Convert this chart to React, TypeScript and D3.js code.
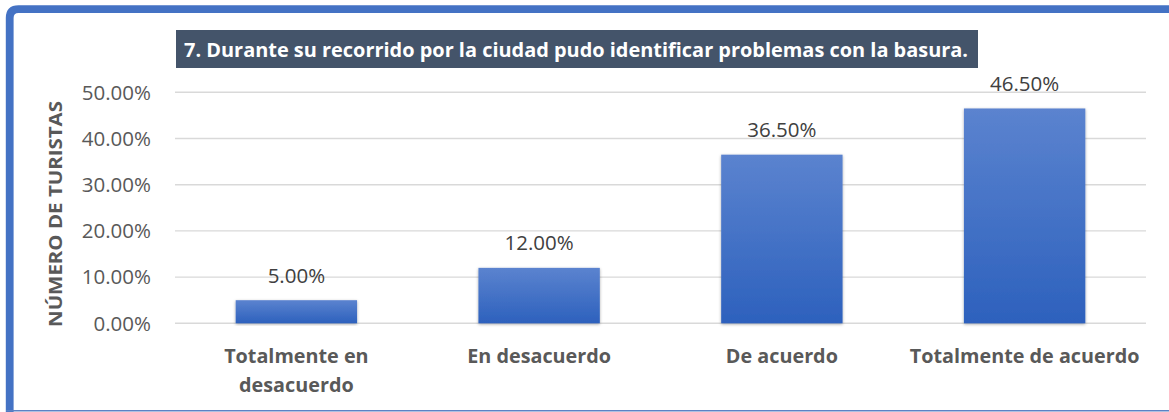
import React from "react";
import * as d3 from "d3";

const categories: string[][] = [
  ["Totalmente en", "desacuerdo"],
  ["En desacuerdo"],
  ["De acuerdo"],
  ["Totalmente de acuerdo"],
];
const values: number[] = [5.0, 12.0, 36.5, 46.5];
const yTicks: number[] = [0, 10, 20, 30, 40, 50];
const title = "7. Durante su recorrido por la ciudad pudo identificar problemas con la basura.";
const yTitle = "NÚMERO DE TURISTAS";

const W = 1169;
const H = 412;

export default function App() {
  const x = d3
    .scaleBand<number>()
    .domain(d3.range(categories.length))
    .range([175, 1146])
    .paddingInner(0.5)
    .paddingOuter(0.25);
  const y = d3.scaleLinear().domain([0, 50]).range([323.3, 92.3]);
  const fmt = (v: number) => v.toFixed(2) + "%";
  const font = "'Open Sans', sans-serif";

  return (
    <svg
      width={W}
      height={H}
      style={{ position: "absolute", left: 0, top: 0, background: "#fff" }}
    >
      <defs>
        <linearGradient id="barGrad" x1="0" y1="0" x2="0" y2="1">
          <stop offset="0%" stopColor="#5b83cf" />
          <stop offset="100%" stopColor="#2d61bd" />
        </linearGradient>
        <filter id="shadow" x="-10%" y="-10%" width="120%" height="120%">
          <feDropShadow dx="0" dy="1" stdDeviation="1.6" floodColor="#000" floodOpacity="0.35" />
        </filter>
      </defs>

      {/* frame */}
      <path
        d={`M 9.7 ${H} L 9.7 18 Q 9.7 9.2 18.5 9.2 L ${W} 9.2`}
        fill="none"
        stroke="#4472c4"
        strokeWidth={7.8}
      />
      <line x1={6} x2={W} y1={410.8} y2={410.8} stroke="#5b82c4" strokeWidth={1.6} />

      {/* title */}
      <rect x={176} y={30} width={802} height={38} fill="#44546a" />
      <text
        x={184}
        y={56.5}
        fill="#fff"
        fontFamily={font}
        fontWeight={700}
        fontSize={19}
        textLength={784}
        lengthAdjust="spacingAndGlyphs"
      >
        {title}
      </text>

      {/* gridlines */}
      {yTicks.map((t) => (
        <line
          key={"g" + t}
          x1={175}
          x2={1146}
          y1={y(t)}
          y2={y(t)}
          stroke="#d9d9d9"
          strokeWidth={1.4}
        />
      ))}

      {/* y tick labels */}
      {yTicks.map((t) => (
        <text
          key={"t" + t}
          x={151}
          y={y(t)}
          dy="0.36em"
          textAnchor="end"
          fill="#595959"
          fontFamily={font}
          fontSize={20.5}
        >
          {fmt(t)}
        </text>
      ))}

      {/* y axis title */}
      <text
        transform={`translate(62,214) rotate(-90)`}
        textAnchor="middle"
        fill="#595959"
        fontFamily={font}
        fontWeight={700}
        fontSize={18.5}
        textLength={226}
        lengthAdjust="spacingAndGlyphs"
      >
        {yTitle}
      </text>

      {/* bars */}
      {values.map((v, i) => (
        <rect
          key={"b" + i}
          x={x(i)!}
          y={y(v)}
          width={x.bandwidth()}
          height={y(0) - y(v)}
          fill="url(#barGrad)"
          filter="url(#shadow)"
        />
      ))}

      {/* data labels */}
      {values.map((v, i) => (
        <text
          key={"l" + i}
          x={x(i)! + x.bandwidth() / 2}
          y={y(v) - 17.5}
          textAnchor="middle"
          fill="#404040"
          fontFamily={font}
          fontSize={20.5}
        >
          {fmt(v)}
        </text>
      ))}

      {/* category labels */}
      {categories.map((lines, i) => (
        <text
          key={"c" + i}
          x={x(i)! + x.bandwidth() / 2}
          textAnchor="middle"
          fill="#595959"
          fontFamily={font}
          fontWeight={700}
          fontSize={19.8}
        >
          {lines.map((ln, j) => (
            <tspan key={j} x={x(i)! + x.bandwidth() / 2} y={363.3 + j * 28.4}>
              {ln}
            </tspan>
          ))}
        </text>
      ))}
    </svg>
  );
}
